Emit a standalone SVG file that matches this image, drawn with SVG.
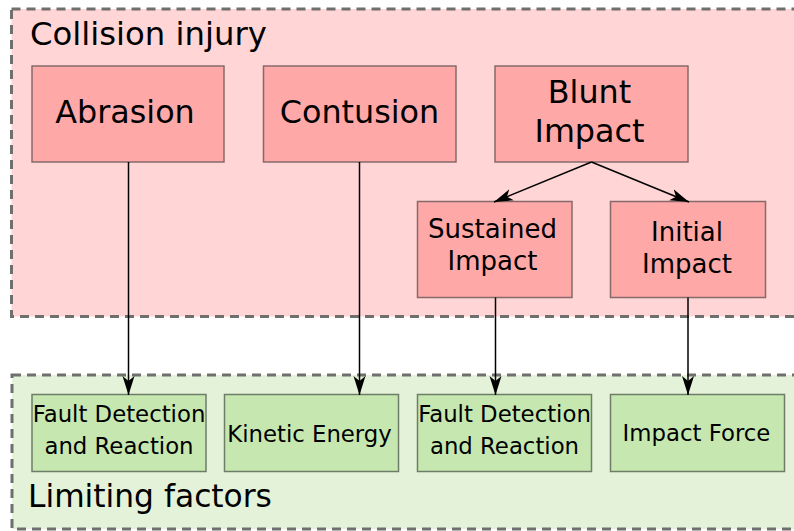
<svg xmlns="http://www.w3.org/2000/svg" width="794" height="531" viewBox="0 0 794 531">
<defs>
<style>
.grp-top{fill:#ffd5d5;stroke:#6f6f6f;stroke-width:3;stroke-dasharray:9 6}
.grp-bot{fill:#e3f2d8;stroke:#6f6f6f;stroke-width:3;stroke-dasharray:9 6}
.red{fill:#ffa8a8;stroke:#866a6a;stroke-width:1.5}
.green{fill:#c6e8b0;stroke:#6f7c68;stroke-width:1.5}
text{font-family:"DejaVu Sans",Verdana,sans-serif;fill:#000}
.t{font-size:32.3px}
.t2{font-size:31.3px}
.m{font-size:26px;text-anchor:middle}
.l{font-size:31.8px;text-anchor:middle}
.s{font-size:22.8px;text-anchor:middle}
.edge{stroke:#000;stroke-width:1.5;fill:none;marker-end:url(#arr)}
</style>
<marker id="arr" markerUnits="userSpaceOnUse" markerWidth="20" markerHeight="13" refX="19" refY="6.5" orient="auto">
<path d="M0,0.5 L19,6.5 L0,12.5 L5,6.5 z" fill="#000"/>
</marker>
</defs>
<g id="group-collision">
<rect class="grp-top" x="11.5" y="9" width="800" height="307.5"/>
<text class="t" x="30" y="45">Collision injury</text>
</g>
<g id="group-limiting">
<rect class="grp-bot" x="12" y="375" width="800" height="154"/>
<text class="t2" x="28" y="507">Limiting factors</text>
</g>
<g id="abrasion">
<rect class="red" x="32" y="66" width="192" height="96"/>
<text class="l" x="125" y="123">Abrasion</text>
</g>
<g id="contusion">
<rect class="red" x="263.5" y="66" width="192.5" height="96"/>
<text class="l" x="359.5" y="123">Contusion</text>
</g>
<g id="blunt-impact">
<rect class="red" x="495" y="66" width="193" height="96"/>
<text class="l" x="589.5" y="103">Blunt</text>
<text class="l" x="589.5" y="142">Impact</text>
</g>
<g id="sustained-impact">
<rect class="red" x="417.5" y="201.5" width="154.5" height="96"/>
<text class="m" x="492.5" y="238">Sustained</text>
<text class="m" x="492.5" y="270">Impact</text>
</g>
<g id="initial-impact">
<rect class="red" x="610.5" y="201.5" width="155" height="96"/>
<text class="m" x="687" y="240.5">Initial</text>
<text class="m" x="687" y="272.5">Impact</text>
</g>
<g id="fault-1">
<rect class="green" x="32" y="394.5" width="174" height="77"/>
<text class="s" x="119" y="422">Fault Detection</text>
<text class="s" x="119" y="454">and Reaction</text>
</g>
<g id="kinetic-energy">
<rect class="green" x="224.5" y="394.5" width="174" height="77"/>
<text class="s" x="309.5" y="441.5">Kinetic Energy</text>
</g>
<g id="fault-2">
<rect class="green" x="417.5" y="394.5" width="174" height="77"/>
<text class="s" x="504.5" y="422">Fault Detection</text>
<text class="s" x="504.5" y="454">and Reaction</text>
</g>
<g id="impact-force">
<rect class="green" x="610.5" y="394.5" width="174" height="77"/>
<text class="s" x="696.5" y="441">Impact Force</text>
</g>
<g id="connectors">
<line class="edge" x1="128.5" y1="162" x2="128.5" y2="395"/>
<line class="edge" x1="359.5" y1="162" x2="359.5" y2="395"/>
<line class="edge" x1="495.5" y1="297.5" x2="495.5" y2="395"/>
<line class="edge" x1="688" y1="297.5" x2="688" y2="395"/>
<line class="edge" x1="591.5" y1="162" x2="494" y2="202"/>
<line class="edge" x1="591.5" y1="162" x2="689" y2="202"/>
</g>
</svg>
